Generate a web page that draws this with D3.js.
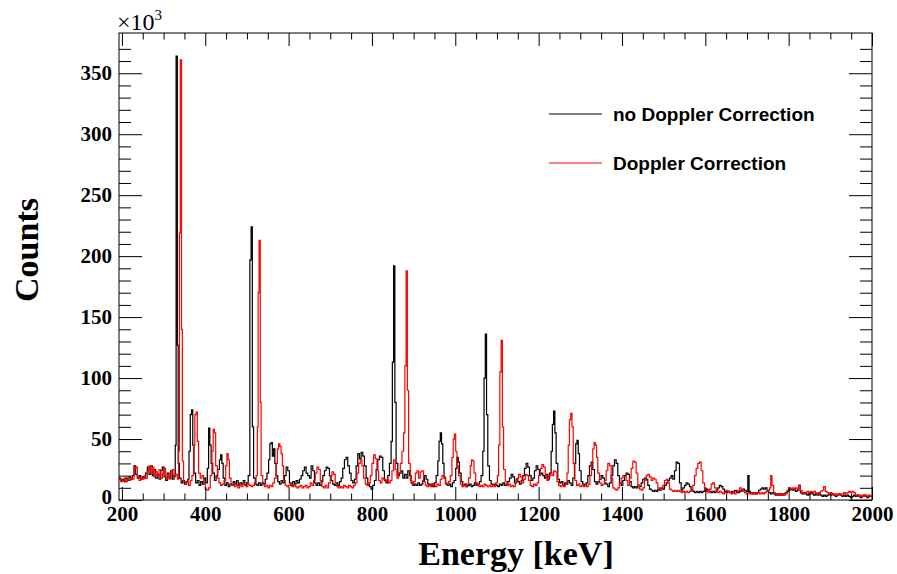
<!DOCTYPE html>
<html>
<head>
<meta charset="utf-8">
<script src="https://cdn.jsdelivr.net/npm/d3@7"></script>
<style>
  body { margin: 0; background: #fff; }
  svg { display: block; }
  .serif { font-family: "Liberation Serif", "Times New Roman", serif; }
  .axis text { font-family: "Liberation Serif", "Times New Roman", serif; font-weight: bold; font-size: 21px; fill: #000; }
  .axis line { stroke: #000; stroke-width: 1; }
  .axis .domain { display: none; }
</style>
</head>
<body>
<div id="chart"></div>
<script>
// spectrum, [bin start keV, counts x10^3] (step histogram)
const noDoppler = [
  [193,18],[197,16],[201,17],[205,15],[209,18],[213,16],[217,19],[221,17],[225,20],[229,28],[233,21],[237,18],
  [241,20],[245,17],[249,19],[253,18],[257,22],[261,27],[265,21],[269,28],[273,20],[277,25],[281,18],[285,21],
  [289,17],[293,24],[297,27],[301,19],[305,16],[309,22],[313,18],[317,24],[321,17],[325,20],[328,45],[330,364],
  [333,127],[335,30],[338,18],[342,14],[346,16],[350,13],[354,15],[358,17],[361,40],[364,70],[367,74],[370,45],
  [373,22],[377,14],[381,16],[385,12],[389,15],[393,13],[397,18],[401,14],[405,26],[408,59],[411,45],[414,30],
  [418,22],[422,16],[426,20],[430,25],[434,33],[437,37],[440,30],[443,18],[447,12],[451,14],[455,11],[459,13],
  [463,12],[467,15],[471,13],[475,16],[479,12],[483,14],[487,13],[491,16],[495,12],[499,14],[503,20],[507,197],
  [510,224],[513,60],[516,18],[520,13],[524,12],[528,14],[532,12],[536,14],[540,13],[544,17],[548,22],[552,33],
  [555,46],[558,47],[561,36],[564,42],[567,30],[570,20],[574,15],[578,13],[582,16],[586,14],[590,20],[594,27],
  [598,24],[602,14],[606,12],[610,15],[614,13],[618,16],[622,14],[626,17],[630,20],[634,24],[638,27],[642,22],
  [646,20],[650,18],[654,28],[658,24],[662,14],[666,12],[670,14],[674,12],[678,15],[682,20],[686,24],[690,27],
  [694,26],[698,20],[702,16],[706,13],[710,12],[714,14],[718,12],[722,15],[726,18],[730,26],[734,33],[738,35],
  [742,28],[746,22],[750,16],[754,14],[758,17],[762,28],[766,38],[770,34],[774,39],[778,36],[782,28],[786,18],
  [790,13],[794,11],[798,9],[802,12],[806,16],[810,25],[814,33],[818,36],[822,35],[826,24],[830,16],[834,14],
  [838,20],[842,30],[846,48],[849,113],[852,192],[855,80],[858,30],[862,20],[866,22],[870,24],[874,18],[878,21],
  [882,18],[886,24],[890,20],[894,14],[898,12],[902,13],[906,12],[910,14],[914,12],[918,13],[922,16],[926,20],
  [930,17],[934,13],[938,12],[942,13],[946,11],[950,14],[954,20],[958,32],[961,48],[964,55],[967,46],[970,30],
  [973,18],[977,13],[981,12],[985,13],[989,11],[993,14],[997,16],[1001,26],[1004,35],[1007,31],[1010,22],[1014,15],
  [1018,12],[1022,13],[1026,11],[1030,12],[1034,13],[1038,11],[1042,12],[1046,14],[1050,12],[1054,13],[1058,15],
  [1062,20],[1066,40],[1069,100],[1072,136],[1075,70],[1078,28],[1082,16],[1086,13],[1090,12],[1094,13],[1098,12],
  [1102,11],[1106,13],[1110,12],[1114,14],[1118,12],[1122,13],[1126,15],[1130,18],[1134,21],[1138,19],[1142,14],
  [1146,17],[1150,15],[1154,13],[1158,16],[1162,20],[1166,26],[1170,30],[1174,27],[1178,20],[1182,16],[1186,18],
  [1190,24],[1194,28],[1198,25],[1202,21],[1206,22],[1210,20],[1214,18],[1218,21],[1222,17],[1226,22],[1230,40],
  [1233,62],[1236,73],[1239,55],[1242,30],[1246,17],[1250,14],[1254,15],[1258,12],[1262,14],[1266,13],[1270,16],
  [1274,14],[1278,12],[1282,18],[1286,30],[1289,46],[1292,49],[1295,38],[1298,24],[1302,15],[1306,13],[1310,12],
  [1314,14],[1318,20],[1322,28],[1326,31],[1330,25],[1334,15],[1338,13],[1342,15],[1346,17],[1350,20],[1354,18],
  [1358,14],[1362,13],[1366,11],[1370,14],[1374,20],[1378,28],[1382,33],[1386,30],[1390,20],[1394,14],[1398,12],
  [1402,16],[1406,20],[1410,22],[1414,21],[1418,15],[1422,11],[1426,10],[1430,11],[1434,10],[1438,12],[1442,11],
  [1446,14],[1450,17],[1454,18],[1458,17],[1462,12],[1466,9],[1470,8],[1474,7],[1478,8],[1482,7],[1486,9],
  [1490,8],[1494,10],[1498,9],[1502,12],[1506,14],[1510,16],[1514,18],[1518,20],[1522,17],[1526,24],[1530,31],
  [1534,30],[1538,14],[1542,8],[1546,10],[1550,12],[1554,14],[1558,13],[1562,11],[1566,8],[1570,7],[1574,6],
  [1578,7],[1582,6],[1586,7],[1590,6],[1594,7],[1598,8],[1602,9],[1606,8],[1610,7],[1614,6],[1618,7],[1622,6],
  [1626,8],[1630,10],[1634,12],[1638,11],[1642,9],[1646,7],[1650,6],[1654,7],[1658,6],[1662,7],[1666,6],[1670,8],
  [1674,7],[1678,6],[1682,7],[1686,8],[1690,9],[1694,8],[1698,7],[1702,20],[1705,7],[1708,6],[1712,5],[1716,6],
  [1720,5],[1724,6],[1728,8],[1732,9],[1736,10],[1740,9],[1744,10],[1748,8],[1752,6],[1756,5],[1760,6],[1764,5],
  [1768,4],[1772,5],[1776,4],[1780,5],[1784,4],[1788,5],[1792,6],[1796,7],[1800,8],[1804,9],[1808,8],[1812,9],
  [1816,7],[1820,8],[1824,12],[1828,6],[1832,5],[1836,6],[1840,5],[1844,4],[1848,5],[1852,6],[1856,5],[1860,4],
  [1864,5],[1868,4],[1872,5],[1876,4],[1880,3],[1884,4],[1888,3],[1892,4],[1896,5],[1900,4],[1904,5],[1908,4],
  [1912,3],[1916,4],[1920,5],[1924,4],[1928,3],[1932,4],[1936,3],[1940,4],[1944,3],[1948,2],[1952,3],[1956,4],
  [1960,3],[1964,4],[1968,3],[1972,2],[1976,3],[1980,4],[1984,3],[1988,2],[1992,3],[1996,3]
];

const withDoppler = [
  [193,17],[197,15],[201,16],[205,18],[209,15],[213,17],[217,16],[221,18],[225,17],[229,26],[233,27],[237,19],
  [241,16],[245,18],[249,17],[253,20],[257,18],[261,24],[265,28],[269,22],[273,27],[277,19],[281,23],[285,20],
  [289,25],[293,18],[297,22],[301,26],[305,18],[309,21],[313,17],[317,22],[321,25],[325,19],[329,21],[333,17],
  [336,40],[338,219],[340,361],[343,140],[345,32],[348,15],[352,13],[356,15],[360,12],[364,16],[368,20],[372,45],
  [375,70],[378,72],[381,48],[384,22],[388,18],[392,20],[396,14],[400,9],[404,8],[408,10],[412,20],[416,40],
  [419,58],[422,55],[425,28],[429,18],[433,14],[437,12],[441,13],[445,16],[449,28],[452,38],[455,33],[458,18],
  [462,12],[466,13],[470,11],[474,12],[478,10],[482,12],[486,11],[490,13],[494,12],[498,11],[502,13],[506,12],
  [510,11],[514,12],[518,14],[522,20],[525,60],[527,170],[529,213],[532,80],[534,20],[538,13],[542,11],[546,12],
  [550,10],[554,12],[558,11],[562,14],[566,18],[570,30],[573,42],[576,46],[579,44],[582,38],[585,28],[588,16],
  [592,12],[596,11],[600,12],[604,13],[608,11],[612,12],[616,11],[620,10],[624,11],[628,12],[632,10],[636,11],
  [640,12],[644,10],[648,11],[652,14],[656,12],[660,16],[664,22],[668,27],[672,25],[676,16],[680,11],[684,10],
  [688,12],[692,10],[696,14],[700,20],[704,23],[708,21],[712,14],[716,11],[720,10],[724,11],[728,10],[732,12],
  [736,11],[740,10],[744,12],[748,11],[752,10],[756,12],[760,14],[764,22],[768,30],[772,33],[776,28],[780,18],
  [784,13],[788,12],[792,14],[796,20],[800,30],[804,37],[808,34],[812,24],[816,16],[820,14],[824,18],[828,17],
  [832,15],[836,17],[840,14],[844,16],[848,24],[852,33],[856,25],[860,18],[864,22],[868,30],[872,40],[876,55],
  [879,110],[882,188],[885,90],[888,30],[892,16],[896,13],[900,15],[904,22],[908,24],[912,18],[916,23],[920,24],
  [924,15],[928,12],[932,11],[936,12],[940,11],[944,13],[948,12],[952,11],[956,13],[960,12],[964,17],[968,20],
  [972,19],[976,14],[980,13],[984,15],[988,20],[992,35],[995,50],[998,54],[1001,40],[1004,28],[1008,20],[1012,13],
  [1016,11],[1020,12],[1024,11],[1028,13],[1032,18],[1036,28],[1039,33],[1042,32],[1045,22],[1049,14],[1053,12],
  [1057,11],[1061,12],[1065,11],[1069,13],[1073,12],[1077,11],[1081,12],[1085,11],[1089,12],[1093,11],[1097,14],
  [1101,20],[1104,45],[1107,105],[1110,131],[1113,60],[1116,25],[1120,15],[1124,12],[1128,13],[1132,11],[1136,12],
  [1140,11],[1144,14],[1148,18],[1152,21],[1156,19],[1160,14],[1164,17],[1168,21],[1172,20],[1176,16],[1180,12],
  [1184,11],[1188,13],[1192,12],[1196,14],[1200,20],[1204,26],[1208,29],[1212,27],[1216,20],[1220,16],[1224,20],
  [1228,22],[1232,20],[1236,24],[1240,23],[1244,15],[1248,12],[1252,11],[1256,12],[1260,11],[1264,14],[1268,22],
  [1271,45],[1274,66],[1277,71],[1280,60],[1283,30],[1287,16],[1291,12],[1295,13],[1299,11],[1303,12],[1307,11],
  [1311,12],[1315,11],[1319,13],[1323,20],[1327,30],[1330,42],[1333,47],[1336,45],[1339,35],[1342,22],[1346,14],
  [1350,12],[1354,13],[1358,16],[1362,24],[1366,30],[1370,28],[1374,18],[1378,10],[1382,9],[1386,8],[1390,10],
  [1394,14],[1398,18],[1402,20],[1406,19],[1410,16],[1414,12],[1418,18],[1422,26],[1426,32],[1430,31],[1434,22],
  [1438,12],[1442,9],[1446,8],[1450,10],[1454,16],[1458,20],[1462,21],[1466,19],[1470,16],[1474,18],[1478,17],
  [1482,14],[1486,10],[1490,9],[1494,10],[1498,12],[1502,16],[1506,17],[1510,14],[1514,9],[1518,8],[1522,7],
  [1526,8],[1530,7],[1534,8],[1538,7],[1542,6],[1546,7],[1550,6],[1554,7],[1558,6],[1562,7],[1566,8],[1570,12],
  [1574,20],[1578,26],[1582,30],[1586,31],[1590,24],[1594,14],[1598,8],[1602,7],[1606,6],[1610,9],[1614,13],
  [1618,14],[1622,10],[1626,7],[1630,6],[1634,7],[1638,6],[1642,5],[1646,6],[1650,8],[1654,7],[1658,6],[1662,5],
  [1666,6],[1670,5],[1674,6],[1678,8],[1682,10],[1686,9],[1690,7],[1694,6],[1698,5],[1702,6],[1706,5],[1710,6],
  [1714,5],[1718,6],[1722,5],[1726,6],[1730,5],[1734,6],[1738,5],[1742,6],[1746,7],[1750,8],[1754,10],[1757,20],
  [1760,12],[1764,6],[1768,5],[1772,4],[1776,5],[1780,4],[1784,5],[1788,4],[1792,5],[1796,8],[1800,10],[1804,9],
  [1808,10],[1812,9],[1816,10],[1820,9],[1824,12],[1828,8],[1832,6],[1836,5],[1840,6],[1844,7],[1848,6],[1852,7],
  [1856,6],[1860,7],[1864,6],[1868,5],[1872,6],[1876,7],[1880,8],[1884,11],[1888,7],[1892,6],[1896,5],[1900,6],
  [1904,5],[1908,4],[1912,5],[1916,4],[1920,5],[1924,4],[1928,5],[1932,6],[1936,5],[1940,6],[1944,7],[1948,6],
  [1952,7],[1956,6],[1960,4],[1964,3],[1968,4],[1972,3],[1976,4],[1980,3],[1984,4],[1988,3],[1992,4],[1996,3]
];

const seriesNames = ["no Doppler Correction", "Doppler Correction"];
const seriesColors = ["#000000", "#ff0000"];
const xMajorTicks = [200, 400, 600, 800, 1000, 1200, 1400, 1600, 1800, 2000];
const yMajorTicks = [0, 50, 100, 150, 200, 250, 300, 350];

const W = 897, H = 574;
const margin = { left: 119, right: 872, top: 33, bottom: 500 };

const svg = d3.select("#chart").append("svg")
  .attr("width", W).attr("height", H);

const x = d3.scaleLinear().domain([193, 2000]).range([margin.left, margin.right]);
const y = d3.scaleLinear().domain([0, 383]).range([margin.bottom, margin.top]);

// histograms
const line = d3.line()
  .x(d => x(d[0]))
  .y(d => y(d[1]))
  .curve(d3.curveStepAfter);

[noDoppler, withDoppler].forEach((s, i) => {
  const pts = s.concat([[2000, s[s.length - 1][1]]]);
  svg.append("path")
    .datum(pts)
    .attr("fill", "none")
    .attr("stroke", seriesColors[i])
    .attr("stroke-width", 1.2)
    .attr("d", line);
});

// frame
svg.append("rect")
  .attr("x", margin.left).attr("y", margin.top)
  .attr("width", margin.right - margin.left).attr("height", margin.bottom - margin.top)
  .attr("fill", "none").attr("stroke", "#000").attr("stroke-width", 1);

// minor ticks
const xMinor = d3.range(250, 2000, 50).filter(v => v % 200 !== 0);
const yMinor = d3.range(10, 380, 10).filter(v => v % 50 !== 0);

svg.append("g").attr("class", "axis").attr("transform", `translate(0,${margin.bottom})`)
  .call(d3.axisBottom(x).tickValues(xMinor).tickSize(-6.5).tickFormat(""));
svg.append("g").attr("class", "axis").attr("transform", `translate(0,${margin.top})`)
  .call(d3.axisTop(x).tickValues(xMinor).tickSize(-6.5).tickFormat(""));
svg.append("g").attr("class", "axis").attr("transform", `translate(${margin.left},0)`)
  .call(d3.axisLeft(y).tickValues(yMinor).tickSize(-12).tickFormat(""));
svg.append("g").attr("class", "axis").attr("transform", `translate(${margin.right},0)`)
  .call(d3.axisRight(y).tickValues(yMinor).tickSize(-12).tickFormat(""));

// major ticks + labels
svg.append("g").attr("class", "axis").attr("transform", `translate(0,${margin.bottom})`)
  .call(d3.axisBottom(x).tickValues(xMajorTicks).tickSize(-13).tickPadding(6).tickFormat(d3.format("d")))
  .selectAll("text").attr("font-size", 20);
svg.append("g").attr("class", "axis").attr("transform", `translate(0,${margin.top})`)
  .call(d3.axisTop(x).tickValues(xMajorTicks).tickSize(-13).tickFormat(""));
svg.append("g").attr("class", "axis").attr("transform", `translate(${margin.left},0)`)
  .call(d3.axisLeft(y).tickValues(yMajorTicks).tickSize(-23).tickPadding(7).tickFormat(d3.format("d")))
  .selectAll("text").attr("y", d => d === 0 ? -3 : 0);
svg.append("g").attr("class", "axis").attr("transform", `translate(${margin.right},0)`)
  .call(d3.axisRight(y).tickValues(yMajorTicks).tickSize(-23).tickFormat(""));

// exponent
const expo = svg.append("text").attr("class", "serif")
  .attr("x", margin.left - 2).attr("y", 30).attr("font-size", 24).attr("fill", "#000");
expo.append("tspan").text("\u00d710");
expo.append("tspan").attr("font-size", 15).attr("dy", -10).text("3");

// axis titles
svg.append("text").attr("class", "serif")
  .attr("transform", `translate(38,250) rotate(-90)`)
  .attr("text-anchor", "middle")
  .attr("font-size", 34).attr("font-weight", "bold")
  .text("Counts");

svg.append("text").attr("class", "serif")
  .attr("x", 516).attr("y", 565)
  .attr("text-anchor", "middle")
  .attr("font-size", 34).attr("font-weight", "bold")
  .text("Energy [keV]");

// legend
const legendY = [114, 163];
seriesNames.forEach((name, i) => {
  svg.append("line")
    .attr("x1", 549).attr("x2", 602)
    .attr("y1", legendY[i]).attr("y2", legendY[i])
    .attr("stroke", seriesColors[i]).attr("stroke-width", 1);
  svg.append("text")
    .attr("x", 613).attr("y", legendY[i])
    .attr("dy", "0.35em")
    .attr("font-family", "'Liberation Sans', Arial, Helvetica, sans-serif")
    .attr("font-weight", "bold").attr("font-size", 19)
    .attr("fill", "#000")
    .text(name);
});
</script>
</body>
</html>
